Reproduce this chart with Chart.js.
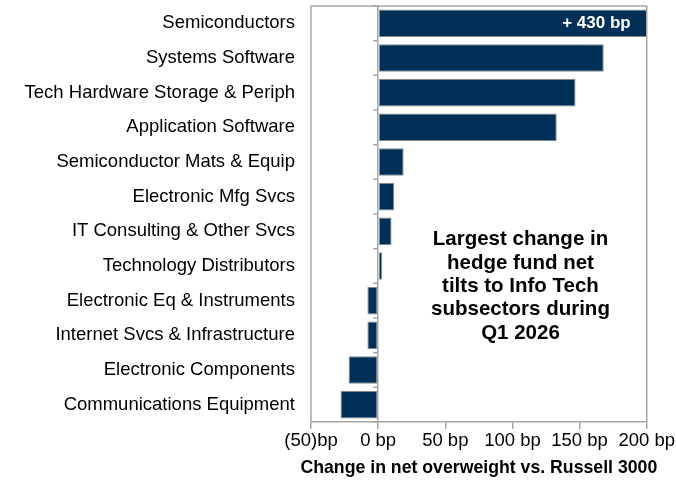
<!DOCTYPE html>
<html>
<head>
<meta charset="utf-8">
<script src="https://cdn.jsdelivr.net/npm/chart.js@4.4.1/dist/chart.umd.min.js"></script>
<style>
	html, body { margin: 0; padding: 0; background: #fff; }
	#wrap { width: 676px; height: 481px; }
</style>
</head>
<body>
<div id="wrap"><canvas id="chart1"></canvas></div>
<script>
const subsectors = [
	'Semiconductors',
	'Systems Software',
	'Tech Hardware Storage & Periph',
	'Application Software',
	'Semiconductor Mats & Equip',
	'Electronic Mfg Svcs',
	'IT Consulting & Other Svcs',
	'Technology Distributors',
	'Electronic Eq & Instruments',
	'Internet Svcs & Infrastructure',
	'Electronic Components',
	'Communications Equipment'
];
const tiltChange = [430, 168, 147, 133, 19, 12, 10, 3, -8, -8, -22, -28];
const xTicks = [-50, 0, 50, 100, 150, 200];
const xTitle = 'Change in net overweight vs. Russell 3000';
const noteLines = ['Largest change in', 'hedge fund net', 'tilts to Info Tech', 'subsectors during', 'Q1 2026'];

const navy = '#003057';
const frame = '#a6a6a6';
const fontFam = '"Liberation Sans", Arial, sans-serif';

function bpLabel(v) {
	return v < 0 ? '(' + Math.abs(v) + ')bp' : v + ' bp';
}

// border box, zero line ticks, the clipped bar label, axis title and the note
const extras = {
	id: 'extras',
	afterDatasetsDraw(chart) {
		const ctx = chart.ctx;
		const a = chart.chartArea;
		const xs = chart.scales.x;
		const ys = chart.scales.y;
		ctx.save();
		ctx.strokeStyle = frame;
		ctx.lineWidth = 1.5;
		ctx.beginPath();
		ctx.moveTo(a.left, a.bottom);
		ctx.lineTo(a.left, a.top);
		ctx.lineTo(a.right, a.top);
		ctx.lineTo(a.right, a.bottom);
		ctx.stroke();

		// small ticks on zero line between categories
		const x0 = xs.getPixelForValue(0);
		ctx.beginPath();
		for (let i = 0; i <= subsectors.length; i++) {
			const y = i === 0 ? a.top : i === subsectors.length ? a.bottom :
				(ys.getPixelForValue(i - 1) + ys.getPixelForValue(i)) / 2;
			ctx.moveTo(x0 - 5, y);
			ctx.lineTo(x0, y);
		}
		ctx.stroke();

		// label for the bar that runs off the scale
		tiltChange.forEach((v, i) => {
			if (v > xs.max) {
				ctx.fillStyle = '#fff';
				ctx.font = 'bold 17px ' + fontFam;
				ctx.textAlign = 'right';
				ctx.textBaseline = 'middle';
				ctx.fillText('+ ' + v + ' bp', a.right - 16, ys.getPixelForValue(i));
			}
		});

		ctx.fillStyle = '#000';
		ctx.textAlign = 'center';
		ctx.textBaseline = 'middle';
		ctx.font = 'bold 17.7px ' + fontFam;
		ctx.fillText(xTitle, (a.left + a.right) / 2, a.bottom + 46);

		ctx.font = 'bold 20.5px ' + fontFam;
		const cx = xs.getPixelForValue(106);
		const startY = ys.getPixelForValue(6.24);
		noteLines.forEach((t, k) => ctx.fillText(t, cx, startY + k * 23.3));
		ctx.restore();
	}
};

const ctx1 = document.getElementById('chart1').getContext('2d');
const myBarChart = new Chart(ctx1, {
	type: 'bar',
	data: {
		labels: subsectors,
		datasets: [{
			label: 'Change in net overweight',
			data: tiltChange,
			backgroundColor: navy,
			borderColor: '#8c8c8c',
			borderWidth: 1,
			borderSkipped: false,
			barPercentage: 0.8,
			categoryPercentage: 1
		}]
	},
	options: {
		indexAxis: 'y',
		responsive: true,
		maintainAspectRatio: false,
		animation: false,
		layout: { padding: { top: 6, right: 28, left: 0, bottom: 0 }, autoPadding: false },
		plugins: {
			legend: { display: false },
			tooltip: { enabled: false }
		},
		scales: {
			x: {
				min: -50,
				max: 200,
				afterBuildTicks: (scale) => { scale.ticks = xTicks.map(v => ({ value: v })); },
				afterFit: (scale) => { scale.height = 59; },
				ticks: {
					callback: (v) => bpLabel(v),
					color: '#000',
					font: { family: fontFam, size: 18.5 },
					maxRotation: 0,
					padding: 1
				},
				grid: {
					color: (c) => c.tick && c.tick.value === 0 ? frame : 'rgba(0,0,0,0)',
					tickColor: frame,
					tickLength: 7,
					lineWidth: 1.5
				},
				border: { color: frame, width: 1.5 }
			},
			y: {
				afterFit: (scale) => { scale.width = 311; scale.paddingTop = 0; scale.paddingBottom = 0; },
				ticks: {
					color: '#000',
					font: { family: fontFam, size: 18.5 },
					padding: 8
				},
				grid: { display: false },
				border: { display: false }
			}
		}
	},
	plugins: [extras]
});
</script>
</body>
</html>
